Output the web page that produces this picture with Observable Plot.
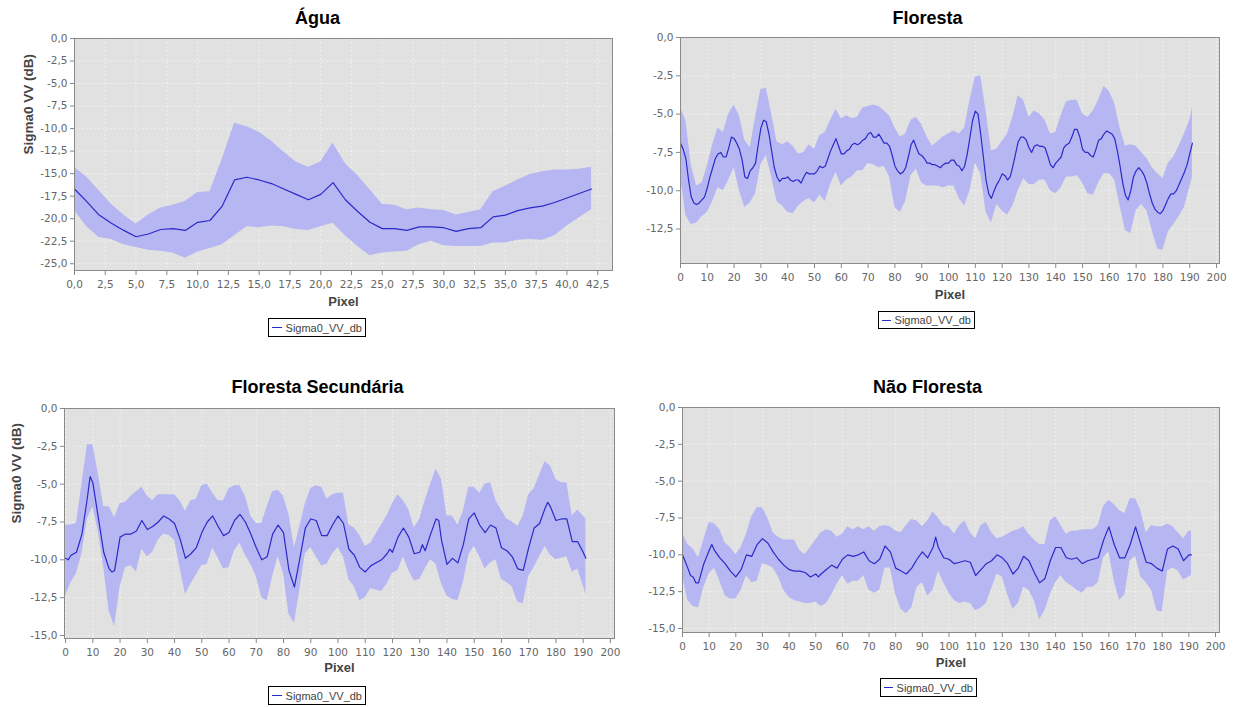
<!DOCTYPE html>
<html><head><meta charset="utf-8">
<script src="https://cdn.jsdelivr.net/npm/d3@7"></script>
<script src="https://cdn.jsdelivr.net/npm/@observablehq/plot@0.6"></script>
<style>
body{margin:0;background:#fff;width:1233px;height:707px;position:relative;overflow:hidden;font-family:"DejaVu Sans",sans-serif}
.panel{position:absolute}
.legend{position:absolute;border:1px solid #000;background:#fff;font:11px "Liberation Sans",sans-serif;color:#444;display:flex;align-items:center;padding:0 3px;box-sizing:border-box;white-space:nowrap}
.legend .sw{display:inline-block;width:14px;height:0;border-top:1.5px solid #2a2ac8;margin-right:4px}
</style></head><body>
<script>
// ---------- tick values ----------
const aguaXTicks = [0,2.5,5,7.5,10,12.5,15,17.5,20,22.5,25,27.5,30,32.5,35,37.5,40,42.5];
const pixelTicks = [0,10,20,30,40,50,60,70,80,90,100,110,120,130,140,150,160,170,180,190,200];
const aguaYTicks = [0,-2.5,-5,-7.5,-10,-12.5,-15,-17.5,-20,-22.5,-25];
const florestaYTicks = [0,-2.5,-5,-7.5,-10,-12.5];
const yTicks15 = [0,-2.5,-5,-7.5,-10,-12.5,-15];

// ---------- Água (pixels 0..42) ----------
const aguaMean = [-16.7,-18.1,-19.6,-20.5,-21.3,-22.0,-21.7,-21.2,-21.1,-21.3,-20.4,-20.2,-18.6,-15.7,-15.4,-15.7,-16.1,-16.7,-17.3,-17.9,-17.3,-16.0,-17.9,-19.2,-20.4,-21.1,-21.1,-21.3,-20.9,-20.9,-21.0,-21.4,-21.1,-21.0,-19.8,-19.6,-19.1,-18.8,-18.6,-18.2,-17.7,-17.2,-16.7];
const aguaUpper = [-14.3,-15.4,-16.9,-18.4,-19.6,-20.6,-19.6,-18.8,-18.5,-18.1,-17.1,-17.0,-13.4,-9.4,-9.8,-10.4,-11.4,-12.6,-13.7,-14.3,-13.7,-11.6,-13.9,-15.2,-16.8,-18.4,-18.5,-19.0,-18.8,-19.0,-19.1,-19.6,-19.3,-19.0,-17.0,-16.4,-15.7,-15.1,-14.8,-14.6,-14.6,-14.5,-14.3];
const aguaLower = [-19.1,-20.9,-22.1,-22.3,-22.9,-23.2,-23.5,-23.6,-23.8,-24.4,-23.7,-23.3,-22.9,-21.9,-20.9,-21.0,-20.8,-20.9,-21.2,-21.3,-20.9,-20.5,-21.9,-23.1,-24.1,-23.8,-23.7,-23.6,-22.9,-22.5,-23.0,-23.1,-23.1,-23.1,-22.7,-22.7,-22.4,-22.3,-22.4,-21.9,-20.8,-19.9,-19.0];

// ---------- sampled pixel positions for the bands ----------
const pixel2 = [0,2,4,6,8,10,12,14,16,18,20,22,24,26,28,30,32,34,36,38,40,42,44,46,48,50,52,54,56,58,60,62,64,66,68,70,72,74,76,78,80,82,84,86,88,90,92,94,96,98,100,102,104,106,108,110,112,114,116,118,120,122,124,126,128,130,132,134,136,138,140,142,144,146,148,150,152,154,156,158,160,162,164,166,168,170,172,174,176,178,180,182,184,186,188,190,191];

// ---------- Floresta ----------
const florestaMean = [-6.9,-7.3,-7.9,-9.3,-10.4,-10.8,-10.9,-10.8,-10.6,-10.4,
-9.8,-9.1,-8.5,-7.9,-7.6,-7.5,-7.8,-7.8,-7.2,-6.5,
-6.6,-6.9,-7.3,-8.0,-9.1,-9.2,-8.7,-8.5,-8.2,-7.0,
-5.9,-5.4,-5.5,-6.3,-7.4,-8.5,-9.1,-9.4,-9.2,-9.2,
-9.1,-9.3,-9.4,-9.3,-9.3,-9.5,-9.1,-8.8,-8.9,-8.9,
-8.9,-8.7,-8.4,-8.5,-8.4,-7.9,-7.4,-7.0,-6.6,-7.1,
-7.6,-7.6,-7.4,-7.3,-7.0,-6.9,-7.0,-6.9,-6.7,-6.6,
-6.3,-6.2,-6.5,-6.5,-6.3,-6.6,-6.9,-6.9,-7.1,-7.7,
-8.4,-8.7,-8.9,-8.8,-8.5,-7.8,-7.0,-6.7,-7.2,-7.6,
-7.7,-7.9,-8.2,-8.2,-8.3,-8.3,-8.4,-8.5,-8.3,-8.2,
-8.2,-8.0,-8.0,-8.3,-8.4,-8.7,-8.4,-7.6,-6.5,-5.4,
-4.8,-5.0,-6.3,-7.8,-9.3,-10.2,-10.5,-10.0,-9.6,-9.3,
-8.9,-9.0,-9.3,-9.1,-8.4,-7.6,-6.8,-6.5,-6.5,-6.7,
-7.2,-7.5,-7.1,-7.0,-7.1,-7.1,-7.2,-7.7,-8.3,-8.5,
-8.2,-8.0,-7.8,-7.2,-7.0,-6.9,-6.5,-6.0,-6.0,-6.5,
-7.3,-7.5,-7.5,-7.7,-7.8,-7.3,-6.7,-6.6,-6.3,-6.1,
-6.2,-6.3,-6.6,-7.4,-8.4,-9.5,-10.3,-10.6,-10.0,-9.1,
-8.7,-8.5,-8.7,-9.0,-9.5,-10.2,-10.8,-11.2,-11.4,-11.5,
-11.3,-10.9,-10.5,-10.2,-10.2,-10.0,-9.6,-9.2,-8.8,-8.3,
-7.6,-6.9];
const florestaUpper = [-4.6,-5.4,-8.3,-9.7,-9.5,-8.4,-7.0,-5.9,-6.2,-5.0,
-4.4,-5.1,-6.7,-7.2,-5.2,-3.4,-3.3,-5.0,-6.8,-7.0,
-6.8,-7.1,-7.6,-7.5,-7.0,-7.3,-6.4,-6.2,-5.4,-4.7,
-5.3,-5.1,-5.3,-5.2,-4.6,-4.5,-4.4,-4.5,-4.8,-5.1,
-5.9,-6.5,-6.3,-5.4,-5.2,-5.7,-6.5,-7.1,-6.8,-6.5,
-6.3,-6.1,-6.3,-5.9,-4.1,-2.6,-2.5,-4.8,-7.4,-7.3,
-6.8,-6.3,-5.2,-3.8,-4.1,-5.2,-4.8,-5.0,-5.4,-6.3,
-6.2,-5.1,-4.2,-4.1,-4.1,-5.0,-5.2,-4.8,-4.1,-3.2,
-3.5,-4.3,-5.9,-7.1,-7.0,-7.1,-7.5,-7.9,-8.5,-8.9,
-9.2,-8.2,-7.8,-7.1,-6.3,-5.4,-4.6];
const florestaLower = [-9.1,-11.6,-12.2,-12.1,-11.7,-11.4,-10.7,-9.8,-10.0,-9.3,
-8.5,-10.0,-11.1,-10.8,-10.2,-8.3,-7.7,-9.1,-10.7,-11.0,
-11.4,-11.5,-11.0,-10.7,-10.5,-10.8,-10.3,-10.7,-9.6,-8.8,
-9.7,-9.3,-9.1,-8.7,-8.7,-8.2,-8.3,-8.5,-8.4,-9.1,
-11.1,-11.4,-10.7,-9.0,-8.6,-9.5,-9.7,-9.7,-9.7,-9.8,
-9.7,-9.7,-10.5,-11.0,-10.0,-8.2,-8.9,-11.4,-12.1,-10.9,
-11.3,-11.6,-11.0,-10.0,-9.2,-9.6,-9.6,-9.3,-9.3,-10.0,
-10.2,-9.8,-9.1,-9.1,-9.0,-9.5,-10.2,-10.3,-9.5,-8.9,
-8.9,-9.3,-11.0,-12.6,-12.8,-11.3,-10.9,-11.3,-12.6,-13.8,
-13.9,-12.7,-12.2,-11.7,-11.1,-9.8,-9.1];

// ---------- Floresta Secundária ----------
const fsecPixel = [0,1,2,4,6,8,9,10,12,14,16,17,18,20,22,24,26,28,30,32,34,36,38,40,42,44,46,48,50,52,54,56,58,60,62,64,66,68,70,72,74,76,78,80,82,84,86,88,90,92,94,96,98,100,102,104,106,108,110,112,114,116,118,119,120,122,124,126,128,130,131,132,134,136,137,138,140,142,144,146,148,150,152,154,156,158,160,162,164,166,168,170,172,174,176,177,178,180,182,184,186,188,190,191];
const fsecMean = [-9.9,-10.0,-9.7,-9.5,-8.3,-5.9,-4.5,-4.9,-7.2,-9.5,-10.6,-10.8,-10.7,-8.5,-8.3,-8.3,-8.1,-7.4,-8.0,-7.8,-7.5,-7.1,-7.3,-7.6,-8.6,-9.9,-9.6,-9.2,-8.2,-7.5,-7.1,-7.8,-8.4,-8.2,-7.4,-7.0,-7.5,-8.3,-9.2,-10.0,-9.8,-8.3,-7.7,-8.2,-10.7,-11.8,-9.9,-7.9,-7.3,-7.4,-8.4,-8.4,-7.7,-7.1,-7.6,-9.3,-9.7,-10.5,-10.8,-10.4,-10.2,-10.0,-9.6,-9.3,-9.5,-8.5,-7.9,-8.5,-9.6,-9.5,-9.0,-9.4,-8.3,-7.3,-7.4,-8.7,-10.3,-9.9,-10.2,-9.0,-7.3,-6.9,-7.7,-8.2,-7.7,-7.9,-9.2,-9.4,-9.8,-10.6,-10.7,-9.2,-7.9,-7.6,-6.6,-6.2,-6.5,-7.4,-7.3,-7.3,-8.8,-8.8,-9.5,-9.9];
const fsecUpper = [-7.7,-7.7,-7.6,-5.0,-2.4,-2.4,-4.3,-6.5,-6.5,-7.2,
-6.3,-6.2,-5.8,-5.5,-5.2,-5.8,-6.1,-5.7,-5.7,-5.7,
-5.7,-6.1,-6.8,-6.1,-6.0,-5.1,-5.0,-5.6,-6.1,-6.1,
-5.3,-5.1,-5.1,-5.8,-7.1,-7.6,-7.6,-6.5,-5.5,-5.4,
-5.8,-7.0,-9.2,-7.8,-6.3,-5.3,-5.1,-5.2,-6.0,-5.7,
-5.6,-5.6,-7.7,-7.9,-8.4,-9.1,-8.9,-8.3,-7.7,-7.1,
-6.3,-5.7,-6.1,-6.7,-7.9,-7.3,-6.1,-5.0,-4.0,-4.7,
-7.1,-7.1,-7.7,-6.8,-5.2,-5.2,-5.6,-5.0,-4.9,-6.1,
-6.7,-7.3,-7.5,-7.8,-7.1,-5.7,-5.3,-4.4,-3.5,-3.8,
-4.7,-4.9,-4.9,-7.1,-6.7,-7.1,-7.3];
const fsecLower = [-12.4,-11.5,-10.9,-9.6,-7.3,-6.5,-8.1,-10.5,-13.4,-14.4,
-11.8,-10.5,-10.4,-10.8,-9.3,-9.8,-9.5,-8.7,-8.3,-8.4,
-8.7,-10.5,-12.3,-11.6,-11.0,-10.4,-10.3,-9.2,-9.9,-10.6,
-10.5,-9.4,-8.9,-9.7,-10.3,-11.1,-12.5,-12.7,-11.1,-9.8,
-10.9,-13.6,-14.2,-12.0,-9.6,-9.2,-9.8,-10.4,-10.3,-9.6,
-9.2,-9.8,-11.3,-11.8,-12.7,-12.5,-11.9,-12.0,-12.1,-11.6,
-10.9,-10.7,-9.8,-10.7,-11.4,-11.3,-10.6,-10.0,-10.3,-11.6,
-12.4,-12.6,-12.7,-11.5,-9.7,-9.1,-9.8,-10.6,-10.2,-10.0,
-11.3,-11.5,-11.8,-12.8,-12.9,-11.1,-10.5,-9.8,-9.1,-9.7,
-10.0,-9.9,-9.8,-10.8,-10.6,-11.7,-12.3];

// ---------- Não Floresta ----------
const nfPixel = [0,2,3,4,5,6,8,10,11,12,14,16,18,20,22,24,26,28,30,32,34,36,38,40,42,44,46,48,50,51,52,54,56,58,60,62,64,66,68,70,72,74,76,78,80,82,84,86,88,90,92,94,95,96,98,100,102,104,106,108,110,112,114,116,118,120,122,124,126,128,130,132,134,136,138,140,142,144,146,148,150,152,154,156,158,160,162,164,166,168,170,172,174,176,178,180,182,184,186,188,190,191];
const nfMean = [-10.0,-10.9,-11.4,-11.5,-11.9,-11.9,-10.6,-9.7,-9.3,-9.7,-10.2,-10.6,-11.1,-11.5,-11.0,-10.0,-10.1,-9.3,-8.9,-9.2,-9.8,-10.3,-10.7,-11.0,-11.1,-11.1,-11.2,-11.5,-11.3,-11.5,-11.3,-11.0,-10.7,-10.9,-10.3,-10.0,-10.1,-10.0,-9.8,-10.4,-10.6,-10.3,-9.4,-9.8,-10.9,-11.1,-11.3,-10.9,-10.3,-9.8,-10.2,-9.5,-8.8,-9.5,-10.2,-10.3,-10.6,-10.5,-10.4,-10.5,-11.4,-11.0,-10.6,-10.4,-10.0,-10.2,-10.6,-11.3,-10.9,-10.1,-10.4,-11.2,-11.9,-11.6,-10.4,-9.5,-9.5,-10.2,-10.3,-10.2,-10.6,-10.4,-10.3,-10.2,-9.0,-8.1,-9.3,-10.2,-10.2,-9.3,-8.1,-9.3,-10.5,-10.6,-10.9,-11.1,-9.6,-9.4,-9.6,-10.4,-10.0,-10.0];
const nfUpper = [-8.5,-9.3,-9.6,-10.2,-9.0,-7.8,-7.9,-8.3,-9.2,-9.5,
-10.0,-9.5,-8.6,-7.4,-6.8,-6.8,-7.5,-8.5,-8.8,-9.0,
-9.0,-9.0,-9.7,-10.0,-9.5,-9.0,-8.5,-8.3,-8.4,-8.8,
-8.6,-8.1,-8.3,-8.1,-8.3,-8.1,-8.4,-8.1,-8.0,-8.1,
-8.4,-8.5,-8.0,-7.6,-7.7,-8.1,-7.7,-7.1,-7.5,-8.0,
-8.1,-8.6,-8.0,-7.7,-8.5,-8.9,-8.0,-7.8,-8.5,-8.9,
-8.8,-8.6,-8.4,-8.3,-8.1,-8.6,-9.0,-9.3,-9.3,-7.7,
-7.4,-8.0,-8.6,-8.4,-8.4,-8.3,-8.3,-8.3,-8.0,-6.7,
-6.3,-6.6,-7.0,-7.2,-6.2,-6.2,-7.0,-8.5,-8.0,-8.1,
-8.1,-7.9,-8.1,-8.5,-8.9,-8.4,-8.4];
const nfLower = [-11.4,-13.1,-13.5,-13.6,-12.2,-11.3,-10.9,-11.8,-12.8,-13.0,
-13.0,-12.4,-11.4,-11.9,-11.8,-10.6,-10.7,-10.9,-11.5,-12.4,
-12.9,-13.1,-13.2,-13.3,-13.3,-13.2,-13.5,-13.3,-12.7,-12.0,
-11.4,-12.0,-11.8,-11.8,-11.4,-12.4,-12.6,-12.4,-10.9,-10.9,
-12.7,-13.7,-14.0,-13.6,-12.2,-11.9,-12.8,-12.4,-11.1,-11.9,
-12.6,-13.1,-13.3,-13.2,-13.3,-13.8,-13.6,-13.3,-12.3,-11.3,
-11.5,-12.7,-13.7,-13.3,-12.2,-12.4,-13.1,-14.4,-13.8,-12.7,
-11.9,-11.4,-11.9,-12.1,-12.4,-12.6,-12.2,-12.2,-11.9,-10.2,
-9.8,-11.8,-13.1,-12.7,-10.4,-10.1,-11.5,-11.9,-12.4,-13.8,
-13.9,-11.1,-10.9,-11.1,-11.7,-11.5,-11.4];

const aguaPixel = aguaMean.map((d, i) => i);
const florestaPixel = florestaMean.map((d, i) => i);

const fmt1 = d => d.toFixed(1).replace(".", ",");
const fmtInt = d => String(d);

const LINE = "#2a2ac8", BAND = "#b6b6f2", BG = "#e1e1e1";

function build(cfg) {
  const band = cfg.bandX.map((x, i) => ({x, lo: cfg.lower[i], hi: cfg.upper[i]}));
  const mean = cfg.meanX.map((x, i) => ({x, y: cfg.mean[i]}));
  const grid = {stroke: "#fff", strokeOpacity: 0.6, strokeWidth: 0.8, strokeDasharray: "2,2"};
  const marks = [
    Plot.frame({fill: BG}),
    Plot.gridX({ticks: cfg.xTicks, ...grid}),
    Plot.gridY({ticks: cfg.yTicks, ...grid}),
    Plot.areaY(band, {x: "x", y1: "lo", y2: "hi", fill: BAND}),
    Plot.lineY(mean, {x: "x", y: "y", stroke: LINE, strokeWidth: 1.2}),
    Plot.frame({stroke: "#8a8a8a"}),
    Plot.axisX({ticks: cfg.xTicks, tickFormat: cfg.xFmt, tickSize: 5, tickPadding: 5, label: null, fontSize: 10.5, stroke: "#888", fill: "#666"}),
    Plot.axisY({ticks: cfg.yTicks, tickFormat: fmt1, tickSize: 4, tickPadding: 3, label: null, fontSize: 10.5, stroke: "#888", fill: "#666"}),
    Plot.text([cfg.title], {text: d => d, frameAnchor: "top", dx: cfg.tdx, dy: cfg.tdy, lineAnchor: "middle",
      fontSize: 18, fontWeight: "bold", fill: "#000", fontFamily: "Liberation Sans"}),
    Plot.text(["Pixel"], {text: d => d, frameAnchor: "bottom", dy: cfg.pdy, lineAnchor: "middle",
      fontSize: 13, fontWeight: "bold", fill: "#444", fontFamily: "Liberation Sans"})
  ];
  if (cfg.ylabel) marks.push(Plot.text([cfg.ylabel], {text: d => d, frameAnchor: "left", dx: cfg.ydx, rotate: -90,
      lineAnchor: "middle", fontSize: 13.5, fontWeight: "bold", fill: "#444", fontFamily: "Liberation Sans"}));
  const svg = Plot.plot({
    width: cfg.w, height: cfg.h,
    marginLeft: cfg.mL, marginRight: cfg.mR, marginTop: cfg.mT, marginBottom: cfg.mB,
    x: {domain: cfg.xDomain},
    y: {domain: cfg.yDomain},
    style: {background: "transparent", fontFamily: "DejaVu Sans", fontSize: "10.5px", color: "#666", overflow: "visible"},
    marks
  });
  const wrap = document.createElement("div");
  wrap.className = "panel";
  wrap.style.left = cfg.left + "px";
  wrap.style.top = cfg.top + "px";
  wrap.appendChild(svg);
  document.body.appendChild(wrap);

  const lg = document.createElement("div");
  lg.className = "legend";
  lg.style.left = cfg.lg[0] + "px"; lg.style.top = cfg.lg[1] + "px";
  lg.style.width = cfg.lg[2] + "px"; lg.style.height = cfg.lg[3] + "px";
  const sw = document.createElement("span"); sw.className = "sw";
  lg.appendChild(sw);
  lg.appendChild(document.createTextNode("Sigma0_VV_db"));
  document.body.appendChild(lg);
}

build({title: "Água", left: 0, top: 0, w: 620, h: 345, mL: 74, mR: 8, mT: 38, mB: 75,
  xDomain: [0, 43.7], yDomain: [-25.75, 0], xTicks: aguaXTicks, yTicks: aguaYTicks, xFmt: fmt1,
  tdx: -26, tdy: -20, pdy: 31, ylabel: "Sigma0 VV (dB)", ydx: -46,
  meanX: aguaPixel, mean: aguaMean, bandX: aguaPixel, upper: aguaUpper, lower: aguaLower,
  lg: [268, 318, 98, 19]});

build({title: "Floresta", left: 620, top: 0, w: 613, h: 345, mL: 60, mR: 14, mT: 37, mB: 82,
  xDomain: [0, 201.1], yDomain: [-14.75, 0], xTicks: pixelTicks, yTicks: florestaYTicks, xFmt: fmtInt,
  tdx: -22.5, tdy: -19, pdy: 31,
  meanX: florestaPixel, mean: florestaMean, bandX: pixel2, upper: florestaUpper, lower: florestaLower,
  lg: [878, 311, 97, 18]});

build({title: "Floresta Secundária", left: 0, top: 370, w: 620, h: 337, mL: 64, mR: 6, mT: 38, mB: 69,
  xDomain: [-0.4, 201.5], yDomain: [-15.2, 0], xTicks: pixelTicks, yTicks: yTicks15, xFmt: fmtInt,
  tdx: -22, tdy: -21, pdy: 29, ylabel: "Sigma0 VV (dB)", ydx: -48,
  meanX: fsecPixel, mean: fsecMean, bandX: pixel2, upper: fsecUpper, lower: fsecLower,
  lg: [268, 686, 98, 19]});

build({title: "Não Floresta", left: 620, top: 370, w: 613, h: 337, mL: 62, mR: 14, mT: 37, mB: 75,
  xDomain: [0, 201.5], yDomain: [-15.27, 0], xTicks: pixelTicks, yTicks: yTicks15, xFmt: fmtInt,
  tdx: -23.5, tdy: -20, pdy: 30,
  meanX: nfPixel, mean: nfMean, bandX: pixel2, upper: nfUpper, lower: nfLower,
  lg: [880, 678, 97, 19]});
</script>
</body></html>
